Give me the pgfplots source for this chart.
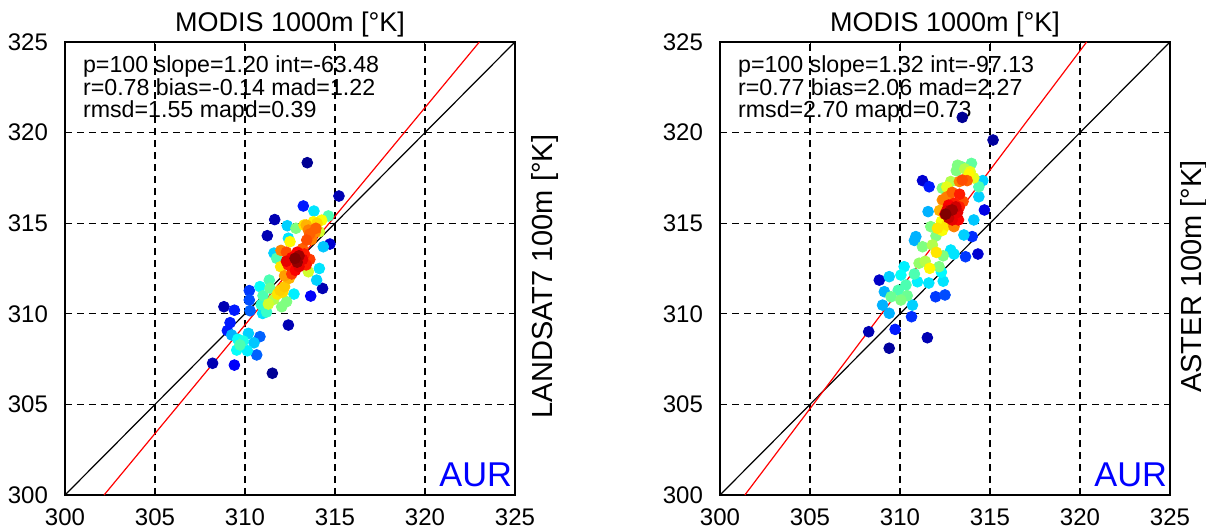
\documentclass[border=0pt]{standalone}
\usepackage{fontspec}
\setmainfont{Liberation Sans}
\usepackage{pgfplots}
\pgfplotsset{compat=1.18}
\usepackage{pgfplotstable}

\pgfplotstableread{
x y c
313.46 318.34 0.02
311.52 306.72 0.02
315.22 316.50 0.05
311.65 315.20 0.05
311.24 314.31 0.05
314.31 311.40 0.05
312.41 309.38 0.05
308.83 310.39 0.05
308.20 307.27 0.05
314.72 313.85 0.08
313.65 310.98 0.12
309.41 307.17 0.12
313.24 315.95 0.15
309.41 310.20 0.15
309.17 309.51 0.15
309.02 309.07 0.15
310.24 311.28 0.18
310.24 310.76 0.20
310.28 310.17 0.22
310.83 308.74 0.22
310.65 307.73 0.22
309.26 308.83 0.30
314.35 313.70 0.32
310.50 308.40 0.32
312.35 314.86 0.33
311.61 313.35 0.33
313.98 311.86 0.33
310.19 308.92 0.33
313.83 315.67 0.35
314.13 312.50 0.35
310.98 310.02 0.35
312.41 314.17 0.35
312.72 311.09 0.36
310.13 307.96 0.36
310.83 311.50 0.38
309.54 308.00 0.38
309.60 308.60 0.38
309.90 308.50 0.40
310.90 310.50 0.42
311.20 310.10 0.43
314.63 315.40 0.45
311.76 313.06 0.45
311.35 311.86 0.45
309.72 308.28 0.45
311.00 311.00 0.45
311.39 311.41 0.48
312.83 314.72 0.50
312.31 310.67 0.50
312.04 310.39 0.50
311.60 310.80 0.55
311.30 310.54 0.58
313.52 312.32 0.58
314.13 314.53 0.58
314.26 315.17 0.62
312.50 313.98 0.63
313.80 315.08 0.63
313.28 314.90 0.65
311.98 312.60 0.65
311.80 311.09 0.65
314.00 315.00 0.66
312.10 311.20 0.66
311.95 311.30 0.67
312.20 311.50 0.68
313.40 314.90 0.70
312.46 311.96 0.70
312.20 312.10 0.72
313.90 314.50 0.74
313.70 314.10 0.75
313.52 314.62 0.75
312.00 313.50 0.75
313.94 314.72 0.78
313.20 313.60 0.78
313.60 314.40 0.78
313.43 314.07 0.80
313.06 313.34 0.80
312.30 313.40 0.80
313.60 313.00 0.82
312.60 312.20 0.82
312.40 312.70 0.85
313.40 312.70 0.85
313.30 313.30 0.85
312.60 313.10 0.88
312.80 312.40 0.88
312.90 313.40 0.88
313.20 313.00 0.90
313.00 312.60 0.90
312.30 312.90 0.90
313.00 313.20 0.97
312.90 312.85 0.98
312.78 313.06 1.00
}\leftdata

\pgfplotstableread{
x y c
313.46 320.84 0.02
315.17 319.59 0.03
309.40 308.10 0.03
308.26 309.01 0.05
311.52 308.68 0.05
308.85 311.86 0.07
311.25 317.35 0.08
314.33 313.30 0.08
314.69 315.73 0.10
311.62 317.01 0.15
309.73 309.14 0.15
314.01 314.26 0.17
310.64 309.84 0.17
313.64 313.15 0.18
311.98 310.94 0.18
312.50 311.04 0.20
311.56 315.64 0.30
310.88 314.26 0.30
310.80 314.05 0.30
309.13 311.22 0.30
309.03 310.48 0.30
309.40 310.03 0.30
314.10 315.18 0.32
314.38 316.46 0.33
314.60 317.35 0.33
313.55 314.35 0.33
309.40 312.05 0.33
310.69 310.48 0.33
312.82 313.52 0.35
313.00 313.30 0.35
311.60 311.70 0.35
312.40 311.80 0.35
310.23 312.60 0.36
310.97 311.77 0.36
312.30 312.30 0.37
310.05 312.14 0.38
314.38 317.01 0.45
310.33 311.59 0.45
309.90 311.30 0.45
310.80 312.20 0.45
313.97 318.30 0.47
313.46 318.10 0.48
309.50 310.94 0.48
310.40 311.00 0.48
312.35 316.93 0.50
313.13 317.90 0.50
311.71 314.81 0.50
312.00 314.30 0.50
311.25 313.70 0.50
312.17 312.60 0.50
310.05 310.76 0.50
313.20 318.20 0.50
312.40 313.20 0.50
311.06 312.79 0.52
312.82 317.30 0.55
313.60 318.00 0.55
311.80 313.80 0.55
311.40 312.90 0.55
313.90 317.84 0.60
314.10 317.50 0.60
312.60 317.00 0.60
312.30 315.10 0.62
312.35 314.60 0.62
313.83 317.70 0.63
311.65 312.51 0.63
312.08 314.72 0.65
312.02 313.39 0.65
312.60 314.90 0.65
312.20 315.70 0.70
312.35 316.28 0.72
312.90 315.10 0.72
313.30 317.30 0.75
312.40 316.30 0.75
312.60 316.45 0.75
313.00 314.81 0.75
313.73 317.35 0.78
312.90 316.70 0.78
313.46 317.38 0.80
313.50 316.20 0.80
313.31 316.60 0.85
313.00 316.10 0.85
313.30 315.90 0.85
312.70 316.00 0.88
312.50 315.50 0.88
313.25 315.18 0.88
312.60 315.70 0.90
313.20 315.60 0.90
312.90 315.18 0.90
313.10 315.90 0.92
312.70 315.30 0.93
312.80 315.70 0.95
312.90 315.73 0.97
312.54 315.50 1.00
}\rightdata

\pgfplotsset{
  myax/.style={
    scale only axis, width=225pt, height=226.5pt,
    xmin=300, xmax=325, ymin=300, ymax=325,
    xtick={300,305,...,325}, ytick={300,305,...,325},
    xtick pos=both, ytick pos=both,
    xticklabel pos=left, yticklabel pos=left,
    tick align=inside, major tick length=3pt,
    tick style={black, line width=0.5pt},
    axis line style={black, line width=0.8pt},
    grid=major,
    major grid style={black, line width=0.55pt, dash pattern=on 3.5pt off 2.5pt},
    tick label style={font=\fontsize{12}{13}\selectfont},
    xticklabel style={yshift=-3.3pt},
    yticklabel style={xshift=-5pt},
    /pgf/number format/assume math mode=true,
    /pgf/number format/1000 sep={},
    colormap/jet, point meta min=0, point meta max=1,
    clip=false,
  },
  myscatter/.style={
    scatter, only marks, mark=*, mark size=2.7pt,
    scatter/use mapped color={draw=mapped color, fill=mapped color},
    point meta=explicit,
  },
}

\begin{document}
\begin{tikzpicture}
\begin{axis}[myax, at={(0pt,0pt)}]
  \addplot[myscatter] table[x=x, y=y, meta=c] {\leftdata};
  \addplot[black, line width=0.6pt] coordinates {(300,300) (325,325)};
  \addplot[red, line width=0.6pt] coordinates {(302.17,300) (323.02,325)};
  \node[anchor=north west, inner sep=0pt, align=left, font=\fontsize{11.6}{11.2}\selectfont]
    at ([xshift=8.85pt,yshift=-6.8pt]rel axis cs:0,1)
    {p=100 slope=1.20 int=-63.48\\r=0.78 bias=-0.14 mad=1.22\\rmsd=1.55 mapd=0.39};
  \node[anchor=base, font=\fontsize{13.5}{14}\selectfont]
    at ([yshift=5.2pt]rel axis cs:0.5,1) {MODIS 1000m [°K]};
  \node[rotate=90, anchor=north, inner sep=0pt, font=\fontsize{14.5}{15}\selectfont]
    at ([xshift=8pt,yshift=-4pt]rel axis cs:1,0.5) {LANDSAT7 100m [°K]};
  \node[anchor=base east, inner sep=0pt, text=blue, font=\fontsize{17.2}{18}\selectfont]
    at ([xshift=-1.3pt,yshift=4.2pt]rel axis cs:1,0) {AUR};
\end{axis}
\begin{axis}[myax, at={(327.5pt,0pt)}]
  \addplot[myscatter] table[x=x, y=y, meta=c] {\rightdata};
  \addplot[black, line width=0.6pt] coordinates {(300,300) (325,325)};
  \addplot[red, line width=0.6pt] coordinates {(301.38,300) (320.37,325)};
  \node[anchor=north west, inner sep=0pt, align=left, font=\fontsize{11.6}{11.2}\selectfont]
    at ([xshift=8.85pt,yshift=-6.8pt]rel axis cs:0,1)
    {p=100 slope=1.32 int=-97.13\\r=0.77 bias=2.06 mad=2.27\\rmsd=2.70 mapd=0.73};
  \node[anchor=base, font=\fontsize{13.5}{14}\selectfont]
    at ([yshift=5.2pt]rel axis cs:0.5,1) {MODIS 1000m [°K]};
  \node[rotate=90, anchor=north, inner sep=0pt, font=\fontsize{14.5}{15}\selectfont]
    at ([xshift=5pt,yshift=-4pt]rel axis cs:1,0.5) {ASTER 100m [°K]};
  \node[anchor=base east, inner sep=0pt, text=blue, font=\fontsize{17.2}{18}\selectfont]
    at ([xshift=-1.3pt,yshift=4.2pt]rel axis cs:1,0) {AUR};
\end{axis}
\pgfresetboundingbox
\useasboundingbox (-32.5pt,-18pt) rectangle (570.5pt,247.5pt);
\end{tikzpicture}
\end{document}
